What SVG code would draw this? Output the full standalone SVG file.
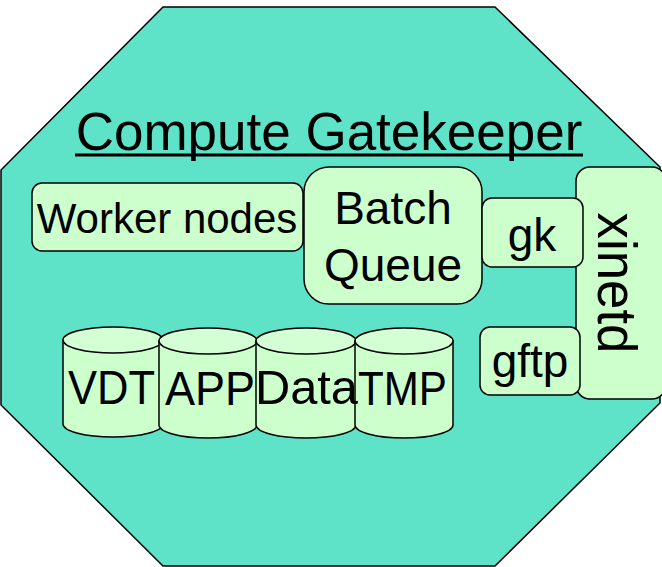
<svg xmlns="http://www.w3.org/2000/svg" width="662" height="567" viewBox="0 0 662 567">
<style>
.box{fill:#CCFFCC;stroke:#000;stroke-width:1.5}
.top{fill:#D4FFD4;stroke:#000;stroke-width:1.5}
.t{font-family:"Liberation Sans",Arial,sans-serif;fill:#000;text-anchor:middle}
.c{font-size:49px}
</style>
<rect width="662" height="567" fill="#fff"/>
<g id="gatekeeper">
<polygon points="163,7 495,7 660,167 660,403 495,566 163,566 1,405 1,170" fill="#5EE2C8" stroke="#000" stroke-width="1.5"/>
<text class="t" x="329" y="150" font-size="53">Compute Gatekeeper</text>
<rect x="75" y="153.5" width="508" height="3" fill="#000"/>
</g>
<g id="connectors"></g>
<g id="worker-nodes">
<rect class="box" x="32" y="183" width="271" height="68" rx="10"/>
<text class="t" x="167" y="233" font-size="42">Worker nodes</text>
</g>
<g id="batch-queue">
<rect class="box" x="304" y="167" width="178" height="137" rx="25"/>
<text class="t" x="393" y="224" font-size="46">Batch</text>
<text class="t" x="393" y="281" font-size="46">Queue</text>
</g>
<g id="xinetd">
<rect class="box" x="576" y="167" width="90" height="232" rx="14"/>
<text class="t" font-size="55" textLength="141" lengthAdjust="spacingAndGlyphs" transform="translate(598,283) rotate(90)">xinetd</text>
</g>
<g id="gk">
<rect class="box" x="482" y="198" width="101" height="69" rx="10"/>
<text class="t" x="532" y="251" font-size="46">gk</text>
</g>
<g id="gftp">
<rect class="box" x="480" y="327" width="100" height="68" rx="10"/>
<text class="t" x="530" y="377" font-size="46">gftp</text>
</g>
<g id="vdt">
<path class="box" d="M63,340 L63,424 A50,13 0 0 0 163,424 L163,340 Z"/>
<ellipse class="top" cx="113" cy="340" rx="50" ry="13"/>
</g>
<g id="app">
<path class="box" d="M159,341 L159,425 A49,13 0 0 0 257,425 L257,341 Z"/>
<ellipse class="top" cx="208" cy="341" rx="49" ry="13"/>
</g>
<g id="data">
<path class="box" d="M256,341 L256,425 A50,13 0 0 0 356,425 L356,341 Z"/>
<ellipse class="top" cx="306" cy="341" rx="50" ry="13"/>
</g>
<g id="tmp">
<path class="box" d="M355,341 L355,425 A49,13 0 0 0 453,425 L453,341 Z"/>
<ellipse class="top" cx="404" cy="341" rx="49" ry="13"/>
</g>
<g id="cylinder-labels">
<text class="t c" x="111.5" y="404" textLength="87" lengthAdjust="spacingAndGlyphs">VDT</text>
<text class="t c" x="210" y="405" textLength="90" lengthAdjust="spacingAndGlyphs">APP</text>
<text class="t c" x="306.5" y="404" textLength="103" lengthAdjust="spacingAndGlyphs">Data</text>
<text class="t c" x="402.5" y="405" textLength="89" lengthAdjust="spacingAndGlyphs">TMP</text>
</g>
</svg>
